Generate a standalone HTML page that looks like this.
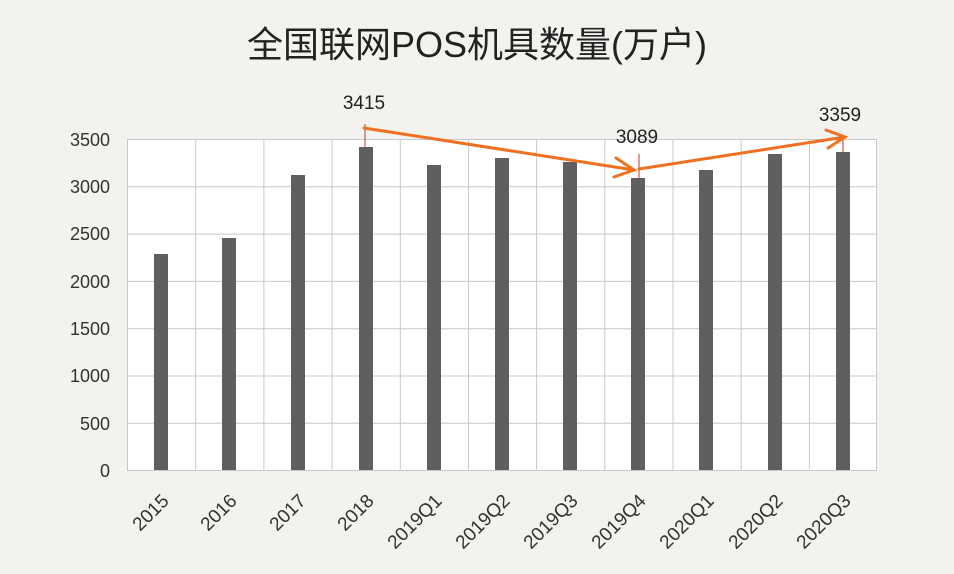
<!DOCTYPE html>
<html><head><meta charset="utf-8"><style>
html,body{margin:0;padding:0;background:#f3f2ee;}
svg{display:block;font-family:"Liberation Sans","Noto Sans CJK SC",sans-serif;}
</style></head><body>
<svg width="954" height="574" viewBox="0 0 954 574">
<rect width="954" height="574" fill="#f3f2ee"/>
<text x="477" y="57" text-anchor="middle" font-size="36" fill="#222">全国联网POS机具数量(万户)</text>
<rect x="127" y="139" width="750" height="331" fill="#fff"/>
<g stroke="#c8c8c8" stroke-width="1">
<line x1="127" x2="877" y1="139.5" y2="139.5"/>
<line x1="127" x2="877" y1="186.8" y2="186.8"/>
<line x1="127" x2="877" y1="234.1" y2="234.1"/>
<line x1="127" x2="877" y1="281.4" y2="281.4"/>
<line x1="127" x2="877" y1="328.7" y2="328.7"/>
<line x1="127" x2="877" y1="376" y2="376"/>
<line x1="127" x2="877" y1="423.3" y2="423.3"/>
<line x1="127" x2="877" y1="470.5" y2="470.5"/>
<line x1="127.5" x2="127.5" y1="139" y2="470"/>
<line x1="195.7" x2="195.7" y1="139" y2="470"/>
<line x1="263.9" x2="263.9" y1="139" y2="470"/>
<line x1="332.1" x2="332.1" y1="139" y2="470"/>
<line x1="400.3" x2="400.3" y1="139" y2="470"/>
<line x1="468.5" x2="468.5" y1="139" y2="470"/>
<line x1="536.6" x2="536.6" y1="139" y2="470"/>
<line x1="604.8" x2="604.8" y1="139" y2="470"/>
<line x1="673" x2="673" y1="139" y2="470"/>
<line x1="741.2" x2="741.2" y1="139" y2="470"/>
<line x1="809.4" x2="809.4" y1="139" y2="470"/>
<line x1="876.5" x2="876.5" y1="139" y2="470"/>
</g>
<g fill="#5f5f5f">
<rect x="154" y="254" width="14" height="216"/>
<rect x="222" y="238" width="14" height="232"/>
<rect x="291" y="175" width="14" height="295"/>
<rect x="359" y="147" width="14" height="323"/>
<rect x="427" y="165" width="14" height="305"/>
<rect x="495" y="158" width="14" height="312"/>
<rect x="563" y="162" width="14" height="308"/>
<rect x="631" y="178" width="14" height="292"/>
<rect x="699" y="170" width="14" height="300"/>
<rect x="768" y="154" width="14" height="316"/>
<rect x="836" y="152" width="14" height="318"/>
</g>
<g font-size="18" fill="#333" text-anchor="end">
<text x="110" y="146">3500</text>
<text x="110" y="193">3000</text>
<text x="110" y="240">2500</text>
<text x="110" y="288">2000</text>
<text x="110" y="335">1500</text>
<text x="110" y="382">1000</text>
<text x="110" y="430">500</text>
<text x="110" y="477">0</text>
</g>
<g font-size="19" fill="#333" text-anchor="end">
<text transform="translate(170,502) rotate(-45)">2015</text>
<text transform="translate(238,502) rotate(-45)">2016</text>
<text transform="translate(307,502) rotate(-45)">2017</text>
<text transform="translate(375,502) rotate(-45)">2018</text>
<text transform="translate(443,502) rotate(-45)">2019Q1</text>
<text transform="translate(511,502) rotate(-45)">2019Q2</text>
<text transform="translate(579,502) rotate(-45)">2019Q3</text>
<text transform="translate(647,502) rotate(-45)">2019Q4</text>
<text transform="translate(715,502) rotate(-45)">2020Q1</text>
<text transform="translate(784,502) rotate(-45)">2020Q2</text>
<text transform="translate(852,502) rotate(-45)">2020Q3</text>
</g>
<g font-size="19" fill="#222" text-anchor="middle">
<text x="364" y="109">3415</text>
<text x="637" y="143">3089</text>
<text x="840" y="121">3359</text>
</g>
<g stroke="#c0392b" stroke-width="1">
<line x1="365" y1="124" x2="365" y2="147"/>
<line x1="639" y1="154" x2="639" y2="178"/>
<line x1="843" y1="138" x2="843" y2="152"/>
</g>
<g stroke="#f07020" stroke-width="3" fill="none" stroke-linecap="round">
<line x1="364" y1="128" x2="634" y2="170"/>
<polyline points="616,158 634,170 614,177"/>
<line x1="639" y1="169" x2="845" y2="137"/>
<polyline points="826,130 845,137 828,148"/>
</g>
</svg>
</body></html>
